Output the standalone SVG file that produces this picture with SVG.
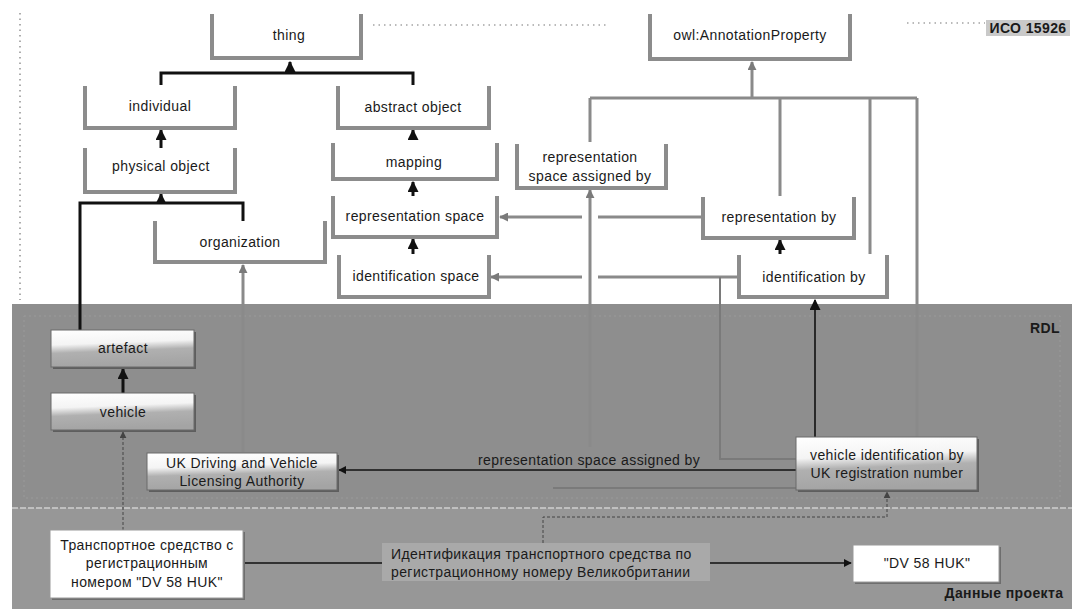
<svg xmlns="http://www.w3.org/2000/svg" width="1072" height="609" viewBox="0 0 1072 609">
<defs>
<style>
text{font-family:"Liberation Sans",Arial,sans-serif;font-size:14px;fill:#1a1a1a;letter-spacing:0.4px}
.c{text-anchor:middle}
.b{font-weight:bold}
.top rect{fill:#fff}
.top path{fill:none;stroke:#8c8c8c;stroke-width:4}
.rdl .sh{fill:#5e5e5e}
.rdl .bx{fill:url(#rg);stroke:#6a6a6a;stroke-width:1}
.prj .sh{fill:#6e6e6e}
.prj .bx{fill:#fff;stroke:#9a9a9a;stroke-width:1}
.k{fill:none;stroke:#111;stroke-width:3}
.kt{fill:none;stroke:#111;stroke-width:1.6}
.g{fill:none;stroke:#8a8a8a;stroke-width:3}
.gt{fill:none;stroke:#7a7a7a;stroke-width:2}
.d{fill:none;stroke:#444;stroke-width:1;stroke-dasharray:3 2}
.dot{fill:none;stroke:#777;stroke-width:1.2;stroke-dasharray:1.5 4}
</style>
<linearGradient id="rg" x1="0" y1="0" x2="0.15" y2="1">
<stop offset="0" stop-color="#ffffff"/>
<stop offset="0.4" stop-color="#f4f4f4"/>
<stop offset="0.62" stop-color="#b0b0b0"/>
<stop offset="1" stop-color="#a4a4a4"/>
</linearGradient>
<marker id="ak" viewBox="0 0 10 10" refX="9" refY="5" markerUnits="userSpaceOnUse" markerWidth="11" markerHeight="11" orient="auto"><path d="M0,0 L10,5 L0,10 z" fill="#111"/></marker>
<marker id="aks" viewBox="0 0 10 10" refX="9" refY="5" markerUnits="userSpaceOnUse" markerWidth="8" markerHeight="8" orient="auto"><path d="M0,0 L10,5 L0,10 z" fill="#111"/></marker>
<marker id="ag" viewBox="0 0 10 10" refX="9" refY="5" markerUnits="userSpaceOnUse" markerWidth="9" markerHeight="9" orient="auto"><path d="M0,0 L10,5 L0,10 z" fill="#7a7a7a"/></marker>
<marker id="ad" viewBox="0 0 10 10" refX="9" refY="5" markerUnits="userSpaceOnUse" markerWidth="7" markerHeight="7" orient="auto"><path d="M0,0 L10,5 L0,10 z" fill="#444"/></marker>
</defs>
<rect x="0" y="0" width="1072" height="609" fill="#fff"/>
<!-- bands -->
<g id="bands">
<rect x="12" y="304" width="1060" height="204" fill="#8e8e8e"/>
<rect x="12" y="508" width="1060" height="101" fill="#979797"/>
<line x1="12" y1="508" x2="1072" y2="508" stroke="#cfcfcf" stroke-width="1.5" stroke-dasharray="6 2"/>
<rect x="24" y="316" width="1036" height="182" fill="none" stroke="#9a9a9a" stroke-width="1" stroke-dasharray="2 3"/>
<path class="dot" d="M20,13 V300"/>
<path class="dot" d="M373,25 H607 M907,23 H985"/>
<rect x="986" y="20" width="84" height="16" fill="#c9c9c9"/>
<text class="c b" x="1028" y="33">ИСО 15926</text>
<text class="c b" x="1045" y="333">RDL</text>
<text class="c b" x="1004" y="598">Данные проекта</text>
</g>
<!-- connectors -->
<g id="connectors">
<path class="k" d="M161,85 V73 H413 V85"/>
<path class="k" d="M290,73 V62" marker-end="url(#ak)"/>
<path class="k" d="M161,148 V130" marker-end="url(#ak)"/>
<path class="k" d="M413,140 V130" marker-end="url(#ak)"/>
<path class="k" d="M413,197 V182" marker-end="url(#ak)"/>
<path class="k" d="M413,254 V239" marker-end="url(#ak)"/>
<path class="k" d="M80,330 V203 H243 V221"/>
<path class="k" d="M161,203 V194" marker-end="url(#ak)"/>
<path class="k" d="M123,393 V369" marker-end="url(#ak)"/>
<path class="k" d="M780,254 V240" marker-end="url(#ak)"/>
<path class="g" d="M590,98 H917 M590,98 V142 M780,98 V196 M870,98 V254 M917,98 V437"/>
<path class="g" d="M752,98 V62" marker-end="url(#ag)"/>
<path class="g" d="M590,447 V190" marker-end="url(#ag)"/>
<path class="g" d="M702,217 H598 M582,217 H500" marker-end="url(#ag)"/>
<path class="g" d="M738,277 H598 M582,277 H491" marker-end="url(#ag)"/>
<path class="gt" d="M720,277 V459 H796"/>
<path class="gt" d="M553,488 H796"/>
<path class="g" d="M243,452 V265" marker-end="url(#ag)"/>
<path class="kt" d="M815,437 V300" marker-end="url(#ak)"/>
<path class="kt" d="M796,470 H339" marker-end="url(#aks)"/>
<text x="478" y="465">representation space assigned by</text>
<path class="d" d="M123,530 V432" marker-end="url(#ad)"/>
<path class="d" d="M543,543 V517 H887 V492" marker-end="url(#ad)"/>
<path class="kt" d="M243,563 H851" marker-end="url(#aks)"/>
<rect x="382" y="543" width="328" height="38" fill="#a9a9a9"/>
<text x="391" y="559">Идентификация транспортного средства по</text>
<text x="391" y="577">регистрационному номеру Великобритании</text>
</g>
<!-- top nodes -->
<g id="thing" class="top"><rect x="212" y="14" width="149" height="44"/><path d="M212,14 V58 H361 V14"/><text class="c" x="289" y="40">thing</text></g>
<g id="individual" class="top"><rect x="85" y="86" width="150" height="42"/><path d="M85,86 V128 H235 V86"/><text class="c" x="160" y="111">individual</text></g>
<g id="physical-object" class="top"><rect x="85" y="148" width="150" height="44"/><path d="M85,148 V192 H235 V148"/><text class="c" x="161" y="171">physical object</text></g>
<g id="abstract-object" class="top"><rect x="338" y="86" width="151" height="42"/><path d="M338,86 V128 H489 V86"/><text class="c" x="413" y="112">abstract object</text></g>
<g id="mapping" class="top"><rect x="333" y="143" width="164" height="36"/><path d="M333,143 V179 H497 V143"/><text class="c" x="414" y="167">mapping</text></g>
<g id="representation-space" class="top"><rect x="333" y="196" width="164" height="41"/><path d="M333,196 V237 H497 V196"/><text class="c" x="415" y="221">representation space</text></g>
<g id="identification-space" class="top"><rect x="339" y="255" width="150" height="42"/><path d="M339,255 V297 H489 V255"/><text class="c" x="416" y="281">identification space</text></g>
<g id="organization" class="top"><rect x="155" y="221" width="170" height="41"/><path d="M155,221 V262 H325 V221"/><text class="c" x="240" y="247">organization</text></g>
<g id="representation-space-assigned-by" class="top"><rect x="517" y="144" width="149" height="44"/><path d="M517,144 V188 H666 V144"/><text class="c" x="590" y="162">representation</text><text class="c" x="590" y="181">space assigned by</text></g>
<g id="owl-annotation-property" class="top"><rect x="650" y="14" width="200" height="45"/><path d="M650,14 V59 H850 V14"/><text class="c" x="750" y="40">owl:AnnotationProperty</text></g>
<g id="representation-by" class="top"><rect x="703" y="197" width="151" height="41"/><path d="M703,197 V238 H854 V197"/><text class="c" x="779" y="222">representation by</text></g>
<g id="identification-by" class="top"><rect x="739" y="255" width="148" height="42"/><path d="M739,255 V297 H887 V255"/><text class="c" x="814" y="282">identification by</text></g>
<!-- RDL nodes -->
<g id="artefact" class="rdl"><rect class="sh" x="53" y="332" width="143" height="37"/><rect class="bx" x="51" y="330" width="143" height="37"/><text class="c" x="123" y="353">artefact</text></g>
<g id="vehicle" class="rdl"><rect class="sh" x="53" y="395" width="143" height="37"/><rect class="bx" x="51" y="393" width="143" height="37"/><text class="c" x="123" y="417">vehicle</text></g>
<g id="uk-dvla" class="rdl"><rect class="sh" x="149" y="455" width="190" height="37"/><rect class="bx" x="147" y="453" width="190" height="37"/><text class="c" x="242" y="468">UK Driving and Vehicle</text><text class="c" x="242" y="486">Licensing Authority</text></g>
<g id="vehicle-identification" class="rdl"><rect class="sh" x="798" y="439" width="181" height="53"/><rect class="bx" x="796" y="437" width="181" height="53"/><text class="c" x="887" y="460">vehicle identification by</text><text class="c" x="887" y="478">UK registration number</text></g>
<!-- project data nodes -->
<g id="vehicle-dv58huk" class="prj"><rect class="sh" x="52" y="532" width="193" height="68"/><rect class="bx" x="50" y="530" width="193" height="68"/><text class="c" x="147" y="550">Транспортное средство с</text><text class="c" x="147" y="568">регистрационным</text><text class="c" x="147" y="587">номером "DV 58 HUK"</text></g>
<g id="dv58huk" class="prj"><rect class="sh" x="855" y="547" width="146" height="37"/><rect class="bx" x="853" y="545" width="146" height="37"/><text class="c" x="927" y="568">"DV 58 HUK"</text></g>
</svg>
